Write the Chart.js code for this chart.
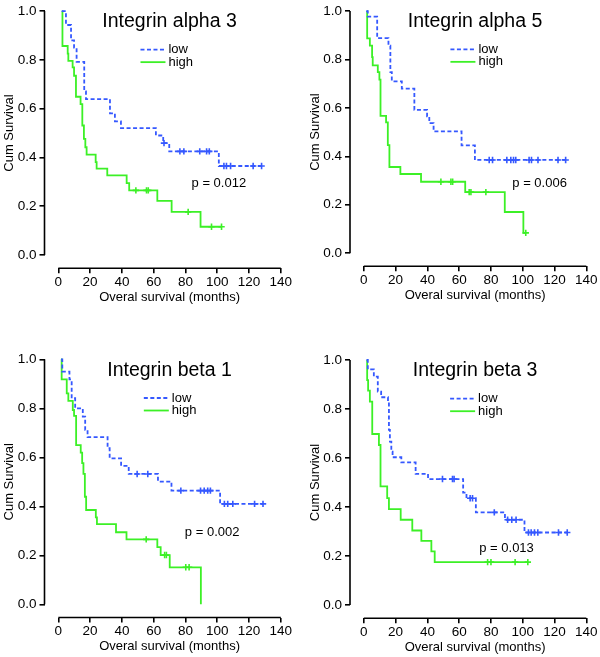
<!DOCTYPE html>
<html>
<head>
<meta charset="utf-8">
<script src="https://cdn.jsdelivr.net/npm/chart.js@4.4.1/dist/chart.umd.min.js"></script>
<style>
    body { margin: 0; background: #fff; }
    #wrap { position: relative; width: 600px; height: 657px; overflow: hidden; }
    .panel { position: absolute; width: 300px; }
</style>
</head>
<body>
<div id="wrap">
    <div class="panel" style="left:0;top:0;height:320px"><canvas id="a3"></canvas></div>
    <div class="panel" style="left:300px;top:0;height:320px"><canvas id="a5"></canvas></div>
    <div class="panel" style="left:0;top:330px;height:327px"><canvas id="b1"></canvas></div>
    <div class="panel" style="left:300px;top:330px;height:327px"><canvas id="b3"></canvas></div>
</div>
<script>
// Axis ticks
const xTicks = [0, 20, 40, 60, 80, 100, 120, 140];
const yTicks = [0, 0.2, 0.4, 0.6, 0.8, 1.0];
const groupLabels = ['low', 'high'];

// Integrin alpha 3
const a3LowTime = [2.1, 4.8, 8.0, 9.9, 11.5, 16.3, 17.4, 32.5, 35.6, 39.4, 61.4, 66.0, 69.8, 101.0, 128.9];
const a3LowSurv = [1, 0.943, 0.880, 0.850, 0.792, 0.671, 0.639, 0.581, 0.548, 0.520, 0.490, 0.459, 0.425, 0.365, 0.365];
const a3LowCensor = [66.5, 76.5, 79.0, 89.0, 93.3, 95.0, 104.2, 105.8, 108.4, 122.6, 127.9];
const a3HighTime = [2.5, 2.6, 5.9, 6.3, 9.0, 9.9, 11.1, 14.0, 15.1, 16.1, 17.0, 17.8, 23.5, 24.1, 30.8, 43.0, 44.6, 62.3, 71.3, 89.5, 102.7];
const a3HighSurv = [1, 0.857, 0.826, 0.796, 0.769, 0.735, 0.649, 0.619, 0.531, 0.476, 0.442, 0.412, 0.381, 0.354, 0.327, 0.295, 0.265, 0.222, 0.177, 0.116, 0.116];
const a3HighCensor = [48.8, 55.5, 56.6, 81.7, 96.4, 102.7];

// Integrin alpha 5
const a5LowTime = [1.5, 2.5, 8.4, 15.5, 16.7, 17.6, 23.9, 31.8, 39.8, 41.2, 43.9, 61.5, 69.9, 128.1];
const a5LowSurv = [1, 0.977, 0.888, 0.857, 0.748, 0.710, 0.680, 0.592, 0.565, 0.537, 0.503, 0.445, 0.385, 0.385];
const a5LowCensor = [78.9, 81.0, 90.0, 92.5, 94.2, 95.6, 104.0, 105.5, 109.6, 122.2, 127.0];
const a5HighTime = [2.0, 2.1, 3.8, 5.2, 5.6, 8.8, 9.8, 10.5, 14.0, 15.1, 16.1, 23.0, 36.0, 63.8, 88.7, 100.4, 101.9];
const a5HighSurv = [1, 0.887, 0.857, 0.810, 0.776, 0.748, 0.717, 0.567, 0.540, 0.446, 0.356, 0.327, 0.295, 0.252, 0.170, 0.084, 0.084];
const a5HighCensor = [48.5, 54.8, 55.9, 66.3, 67.4, 76.8, 101.9];

// Integrin beta 1
const b1LowTime = [1.7, 2.5, 7.0, 8.4, 10.6, 15.4, 16.9, 18.4, 31.0, 32.3, 39.5, 44.3, 62.7, 71.2, 101.8, 128.8];
const b1LowSurv = [1, 0.950, 0.918, 0.841, 0.800, 0.766, 0.712, 0.682, 0.637, 0.596, 0.565, 0.532, 0.501, 0.464, 0.410, 0.410];
const b1LowCensor = [49.6, 56.3, 77.1, 89.5, 91.8, 94.0, 95.7, 104.5, 106.6, 109.8, 123.5, 128.8];
const b1HighTime = [1.7, 2.1, 5.3, 6.3, 9.1, 9.9, 11.2, 14.1, 15.0, 15.8, 16.7, 17.5, 23.6, 24.3, 36.3, 42.9, 62.3, 64.4, 70.1, 89.7];
const b1HighSurv = [1, 0.918, 0.861, 0.830, 0.793, 0.769, 0.650, 0.619, 0.576, 0.532, 0.439, 0.385, 0.355, 0.327, 0.294, 0.265, 0.233, 0.201, 0.151, 0.0];
const b1HighCensor = [55.3, 66.9, 68.0, 80.2, 82.3];

// Integrin beta 3
const b3LowTime = [1.7, 2.5, 6.3, 8.8, 10.9, 15.2, 15.8, 16.4, 17.3, 18.1, 23.6, 32.6, 40.4, 62.5, 64.6, 70.5, 88.8, 101.1, 128.0];
const b3LowSurv = [1, 0.962, 0.932, 0.871, 0.848, 0.830, 0.715, 0.667, 0.626, 0.603, 0.582, 0.535, 0.514, 0.459, 0.436, 0.378, 0.348, 0.296, 0.296];
const b3LowCensor = [49.5, 55.8, 56.8, 66.9, 68.4, 82.1, 90.5, 93.1, 95.8, 103.6, 105.3, 107.4, 109.5, 122.5, 128.0];
const b3HighTime = [1.9, 2.1, 2.7, 3.8, 5.3, 9.5, 10.5, 14.7, 15.8, 23.2, 30.5, 36.2, 42.5, 44.6, 103.2];
const b3HighSurv = [1, 0.918, 0.875, 0.830, 0.698, 0.653, 0.484, 0.436, 0.391, 0.348, 0.304, 0.262, 0.219, 0.175, 0.175];
const b3HighCensor = [77.9, 80.0, 95.2, 103.2];

const LOW_COLOR = '#3558ff';
const HIGH_COLOR = '#3cf026';
const FONT = "'Liberation Sans', Arial, sans-serif";

Chart.defaults.font.family = FONT;
Chart.defaults.color = '#000';

// survival value at time t (step function)
function survAt(times, surv, t) {
    let s = surv[0];
    for (let i = 0; i < times.length; i++) {
        if (times[i] <= t) s = surv[i];
    }
    return s;
}

function curveDatasets(times, surv, censor, color, label, dashed) {
    return [{
        type: 'line',
        label: label,
        data: times.map((t, i) => ({ x: t, y: surv[i] })),
        borderColor: color,
        borderWidth: 1.8,
        borderDash: dashed ? [4, 2.5] : [],
        stepped: 'before',
        pointRadius: 0,
        fill: false,
        clip: false
    }, {
        type: 'scatter',
        label: '',
        data: censor.map(t => ({ x: t, y: survAt(times, surv, t) })),
        pointStyle: 'cross',
        pointRadius: 3.2,
        borderColor: color,
        borderWidth: 1.6,
        clip: false
    }];
}

// Axis lines, legend, title and labels drawn inside each panel
const panelDeco = {
    id: 'panelDeco',
    beforeDatasetsDraw(chart, args, opts) {
        const { ctx, chartArea } = chart;
        const x = chart.scales.x, y = chart.scales.y;
        ctx.save();
        ctx.strokeStyle = '#000';
        ctx.lineWidth = 1.6;
        ctx.beginPath();
        ctx.moveTo(chartArea.left, y.getPixelForValue(0));
        ctx.lineTo(chartArea.left, y.getPixelForValue(1));
        ctx.moveTo(x.getPixelForValue(0), chartArea.bottom);
        ctx.lineTo(x.getPixelForValue(140), chartArea.bottom);
        ctx.stroke();

        ctx.fillStyle = '#000';
        ctx.textBaseline = 'middle';

        // title
        ctx.textAlign = 'center';
        ctx.font = '19.5px ' + FONT;
        ctx.fillText(opts.title, x.getPixelForValue(70), y.getPixelForValue(0.955));

        // p value
        ctx.font = '13px ' + FONT;
        ctx.fillText(opts.p, x.getPixelForValue(opts.pX), y.getPixelForValue(opts.pY));

        // legend
        const lines = chart.data.datasets.filter(d => d.type === 'line');
        lines.forEach((d, i) => {
            const ly = y.getPixelForValue(0.842) + i * 12.5;
            const lx0 = x.getPixelForValue(opts.legX);
            ctx.beginPath();
            ctx.strokeStyle = d.borderColor;
            ctx.lineWidth = 1.8;
            ctx.setLineDash(d.borderDash);
            ctx.moveTo(lx0, ly);
            ctx.lineTo(lx0 + 25, ly);
            ctx.stroke();
            ctx.setLineDash([]);
            ctx.textAlign = 'left';
            ctx.fillText(d.label, lx0 + 28, ly);
        });

        // axis titles
        ctx.textAlign = 'center';
        ctx.font = '13px ' + FONT;
        ctx.fillText('Overal survival (months)', x.getPixelForValue(70), chartArea.bottom + 29);
        ctx.save();
        ctx.translate(chartArea.left - 35, y.getPixelForValue(0.5));
        ctx.rotate(-Math.PI / 2);
        ctx.fillText('Cum Survival', 0, 0);
        ctx.restore();
        ctx.restore();
    }
};

const X_MIN = -8.7, Y_MIN = -0.054;
const PLOT_W = 236.3, PLOT_H = 245 * (1 - Y_MIN);
const Y_AXIS_W = 40, X_AXIS_H = 40;

function makePanel(id, cfg) {
    const canvas = document.getElementById(id);
    const box = canvas.parentNode.getBoundingClientRect();
    const datasets = [
        ...curveDatasets(cfg.lowT, cfg.lowS, cfg.lowC, LOW_COLOR, groupLabels[0], true),
        ...curveDatasets(cfg.highT, cfg.highS, cfg.highC, HIGH_COLOR, groupLabels[1], false)
    ];
    return new Chart(canvas, {
        type: 'line',
        data: { datasets: datasets },
        plugins: [panelDeco],
        options: {
            responsive: true,
            maintainAspectRatio: false,
            animation: false,
            layout: {
                padding: {
                    left: cfg.left - Y_AXIS_W,
                    top: cfg.top,
                    right: box.width - cfg.left - PLOT_W,
                    bottom: box.height - cfg.top - PLOT_H - X_AXIS_H
                }
            },
            scales: {
                x: {
                    type: 'linear',
                    min: X_MIN,
                    max: 140,
                    afterBuildTicks: s => { s.ticks = xTicks.map(v => ({ value: v })); },
                    afterFit: s => { s.height = X_AXIS_H; },
                    border: { display: false },
                    grid: { drawOnChartArea: false, drawTicks: true, tickLength: 5, color: '#000', lineWidth: 1.6 },
                    ticks: { font: { size: 13.5 }, color: '#000', padding: 1, maxRotation: 0, autoSkip: false }
                },
                y: {
                    type: 'linear',
                    min: Y_MIN,
                    max: 1,
                    afterBuildTicks: s => { s.ticks = yTicks.map(v => ({ value: v })); },
                    afterFit: s => { s.width = Y_AXIS_W; },
                    border: { display: false },
                    grid: { drawOnChartArea: false, drawTicks: true, tickLength: 5, color: '#000', lineWidth: 1.6 },
                    ticks: { font: { size: 13.5 }, color: '#000', padding: 3, callback: v => v.toFixed(1) }
                }
            },
            plugins: {
                legend: { display: false },
                tooltip: { enabled: false },
                panelDeco: { title: cfg.title, p: cfg.p, pX: cfg.pX, pY: cfg.pY, legX: cfg.legX }
            }
        }
    });
}

makePanel('a3', {
    title: 'Integrin alpha 3', p: 'p = 0.012', pX: 101, pY: 0.295, legX: 51.7,
    left: 44.5, top: 10,
    lowT: a3LowTime, lowS: a3LowSurv, lowC: a3LowCensor,
    highT: a3HighTime, highS: a3HighSurv, highC: a3HighCensor
});
makePanel('a5', {
    title: 'Integrin alpha 5', p: 'p = 0.006', pX: 110.6, pY: 0.288, legX: 54.5,
    left: 50, top: 8,
    lowT: a5LowTime, lowS: a5LowSurv, lowC: a5LowCensor,
    highT: a5HighTime, highS: a5HighSurv, highC: a5HighCensor
});
makePanel('b1', {
    title: 'Integrin beta 1', p: 'p = 0.002', pX: 96.8, pY: 0.294, legX: 53.8,
    left: 44.5, top: 29.3,
    lowT: b1LowTime, lowS: b1LowSurv, lowC: b1LowCensor,
    highT: b1HighTime, highS: b1HighSurv, highC: b1HighCensor
});
makePanel('b3', {
    title: 'Integrin beta 3', p: 'p = 0.013', pX: 89.8, pY: 0.229, legX: 54.3,
    left: 50, top: 30,
    lowT: b3LowTime, lowS: b3LowSurv, lowC: b3LowCensor,
    highT: b3HighTime, highS: b3HighSurv, highC: b3HighCensor
});
</script>
</body>
</html>
